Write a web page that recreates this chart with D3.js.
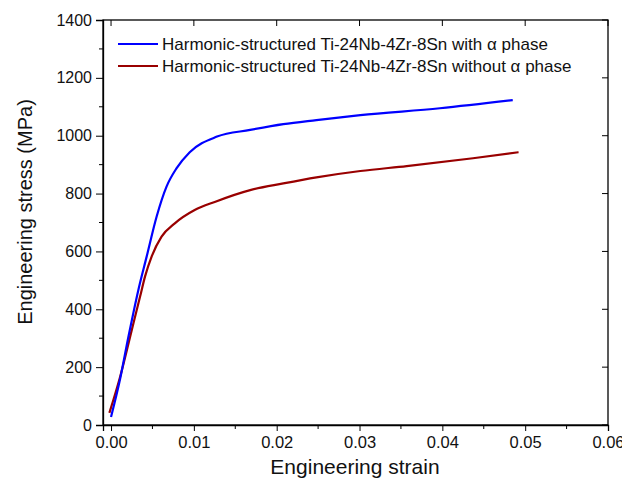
<!DOCTYPE html>
<html>
<head>
<meta charset="utf-8">
<script src="https://cdn.jsdelivr.net/npm/d3@7"></script>
<style>
  body { margin: 0; background: #fff; }
  svg { display: block; font-family: "Liberation Sans", Arial, sans-serif; }
</style>
</head>
<body>
<svg width="622" height="489"></svg>
<script>
const svg = d3.select("svg");

// series: [strain, stress in MPa]
const withAlpha = [
    [0.0000, 28], [0.0011, 160], [0.0021, 305], [0.0033, 467], [0.0043, 582],
    [0.0055, 720], [0.0067, 824], [0.0079, 887], [0.0095, 943], [0.0128, 997],
    [0.0168, 1020], [0.0208, 1040], [0.0248, 1054], [0.0301, 1071],
    [0.0397, 1095], [0.0485, 1123]
];
const withoutAlpha = [
    [-0.0002, 42], [0.0011, 167], [0.0025, 328], [0.0035, 443], [0.0041, 513],
    [0.0049, 582], [0.0061, 651], [0.0077, 697], [0.0101, 743], [0.0126, 772],
    [0.0168, 812], [0.0208, 835], [0.0248, 856], [0.0301, 878],
    [0.0357, 895], [0.0437, 922], [0.0492, 943]
];
const seriesNames = [
    "Harmonic-structured Ti-24Nb-4Zr-8Sn with \u03b1 phase",
    "Harmonic-structured Ti-24Nb-4Zr-8Sn without \u03b1 phase"
];
const seriesColors = ["#0000ff", "#990000"];
const xTicks = [0, 0.01, 0.02, 0.03, 0.04, 0.05, 0.06];
const yTicks = [0, 200, 400, 600, 800, 1000, 1200, 1400];

const margin = {left: 103, right: 14, top: 20, bottom: 64};
const width = 622, height = 489;

const x = d3.scaleLinear().domain([-0.00097, 0.06]).range([margin.left, width - margin.right]);
const y = d3.scaleLinear().domain([0, 1400]).range([height - margin.bottom, margin.top]);

// frame
svg.append("rect")
    .attr("x", x.range()[0]).attr("y", y.range()[1])
    .attr("width", x.range()[1] - x.range()[0])
    .attr("height", y.range()[0] - y.range()[1])
    .attr("fill", "none").attr("stroke", "#000").attr("stroke-width", 1.3);

// bottom axis
const xMinor = d3.range(0.005, 0.06, 0.01);
const gx = svg.append("g").attr("transform", `translate(0,${y(0)})`);
gx.call(d3.axisBottom(x).tickValues(xTicks).tickFormat(d3.format(".2f")).tickSize(6).tickPadding(5));
gx.selectAll(".tick text").attr("font-size", 16.5).attr("fill", "#111");
gx.append("g").selectAll("line").data(xMinor).join("line")
    .attr("x1", d => x(d)).attr("x2", d => x(d)).attr("y1", 0).attr("y2", 4)
    .attr("stroke", "#000");

// left axis
const yMinor = d3.range(100, 1400, 200);
const gy = svg.append("g").attr("transform", `translate(${x.range()[0]},0)`);
gy.call(d3.axisLeft(y).tickValues(yTicks).tickFormat(d3.format("d")).tickSize(7).tickPadding(4));
gy.selectAll(".tick text").attr("font-size", 16).attr("fill", "#111");
gy.append("g").selectAll("line").data(yMinor).join("line")
    .attr("x1", 0).attr("x2", -4).attr("y1", d => y(d)).attr("y2", d => y(d))
    .attr("stroke", "#000");

// mirrored inner ticks on top and right
svg.append("g").selectAll("line").data(xTicks).join("line")
    .attr("x1", d => x(d)).attr("x2", d => x(d))
    .attr("y1", y.range()[1]).attr("y2", y.range()[1] + 6)
    .attr("stroke", "#000");
svg.append("g").selectAll("line").data(yTicks).join("line")
    .attr("x1", x.range()[1]).attr("x2", x.range()[1] - 6)
    .attr("y1", d => y(d)).attr("y2", d => y(d))
    .attr("stroke", "#000");

svg.selectAll(".domain").attr("stroke-width", 1.3);

// curves
const line = d3.line().x(d => x(d[0])).y(d => y(d[1])).curve(d3.curveMonotoneX);
[withoutAlpha, withAlpha].forEach((s, i) => {
    svg.append("path")
        .datum(s)
        .attr("d", line)
        .attr("fill", "none")
        .attr("stroke", seriesColors[1 - i])
        .attr("stroke-width", 2.2);
});

// legend
const legend = svg.append("g");
seriesNames.forEach((name, i) => {
    const ly = 44 + i * 22;
    legend.append("line")
        .attr("x1", 118).attr("x2", 158).attr("y1", ly).attr("y2", ly)
        .attr("stroke", seriesColors[i]).attr("stroke-width", 2.2);
    legend.append("text")
        .attr("x", 162).attr("y", ly + 6)
        .attr("font-size", 17)
        .attr("fill", "#111")
        .text(name);
});

// axis titles
svg.append("text")
    .attr("x", 355).attr("y", 474)
    .attr("text-anchor", "middle")
    .attr("font-size", 21)
    .attr("fill", "#111")
    .text("Engineering strain");
svg.append("text")
    .attr("transform", "translate(25,212) rotate(-90)")
    .attr("text-anchor", "middle")
    .attr("dy", "0.35em")
    .attr("font-size", 20)
    .attr("fill", "#111")
    .text("Engineering stress (MPa)");
</script>
</body>
</html>
